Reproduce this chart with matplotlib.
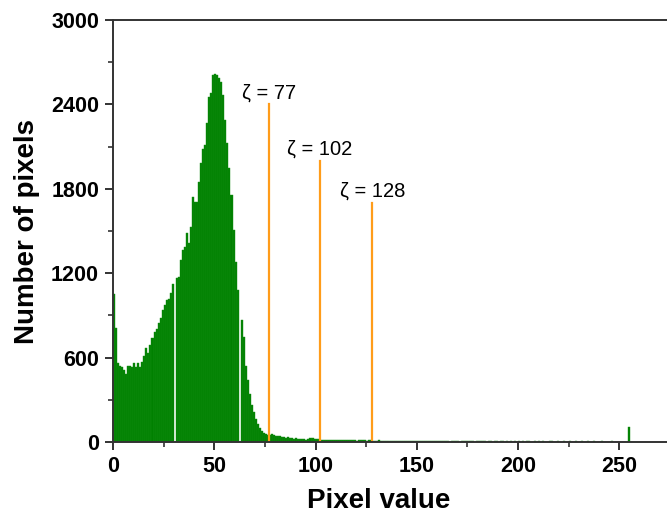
import numpy as np
import matplotlib
matplotlib.use('Agg')
import matplotlib.pyplot as plt
from matplotlib.ticker import MultipleLocator

plt.rcParams['font.family'] = ['Liberation Sans', 'DejaVu Sans']

# histogram counts, one per pixel value 0..255
counts_low = [
    1052, 808, 559, 540, 531, 512, 484, 543, 540, 531,
    564, 531, 559, 531, 571, 611, 665, 630, 689, 737,
    784, 800, 848, 879, 938, 974, 1010, 1016, 1056, 1123,
    0, 1163, 1175, 1293, 1365, 1389, 1488, 1412, 1530, 1744,
    1708, 1708, 1850, 1980, 2080, 2110, 2265, 2454, 2478, 2608,
    2615, 2608, 2585, 2560, 2466, 2289, 2123, 1945, 1755, 1507,
    1282, 1080, 0, 867, 749, 540, 440, 340, 260, 210,
    165, 130, 100, 80, 65, 58, 52,
]
counts_tail = [
    50, 60, 47, 44, 42, 45, 34, 36, 32, 33, 27, 26, 24, 25, 20, 19, 18, 20, 17, 22, 26, 27, 24,
    22, 18, 16, 15, 17, 14, 15, 13, 14, 16, 12, 13, 14, 12, 11, 13, 12, 14, 11, 12, 10, 13, 11, 12, 14, 10, 11, 12,
    9, 10, 8, 11, 9, 7, 10, 8, 9, 7, 8, 10, 6, 9, 7, 8, 6, 9, 7, 8, 5, 7, 8, 6, 7, 5, 8, 6, 7, 5, 6, 7,
    5, 6, 4, 7, 5, 6, 3, 5, 6, 4, 5, 3, 6, 4, 5, 7, 4, 5, 3, 6, 4, 5, 4, 6, 3, 4, 5, 3, 4, 6, 3, 4,
    5, 3, 4, 2, 5, 3, 4, 3, 5, 2, 4, 3, 5, 4, 2, 3, 4, 2, 5, 3, 4, 2, 3, 4, 5, 2, 3, 4, 2, 3, 5, 3,
    2, 4, 3, 2, 4, 3, 2, 5, 3, 2, 4, 2, 3, 4, 2, 3, 2, 4, 3, 2, 3, 2, 4, 2, 3, 2, 2, 3, 1, 2, 110, 0,
]
counts = np.array(counts_low + counts_tail)
pixel_values = np.arange(len(counts))

# thresholds and the height of their marker lines
zeta = [77, 102, 128]
zeta_top = [2400, 2000, 1700]

fig = plt.figure(figsize=(6.67, 5.21), dpi=100)
ax = fig.add_axes([0.1694, 0.1516, 0.8306, 0.81])

ax.bar(pixel_values, counts, width=1, align='edge', color='#008000',
       edgecolor='#178f17', linewidth=0.3)

for z, top in zip(zeta, zeta_top):
    ax.plot([z, z], [0, top], color='#ff9c1a', lw=1.6)
    ax.text(z, top + 80, 'ζ = %d' % z, ha='center', va='center', fontsize=14.5)

ax.set_xlim(0, 273.5)
ax.set_ylim(0, 3000)
ax.xaxis.set_major_locator(MultipleLocator(50))
ax.xaxis.set_minor_locator(MultipleLocator(25))
ax.yaxis.set_major_locator(MultipleLocator(600))
ax.yaxis.set_minor_locator(MultipleLocator(300))

for s in ['left', 'bottom', 'top']:
    ax.spines[s].set_color('#333333')
    ax.spines[s].set_linewidth(1.4)
ax.spines['right'].set_visible(False)

ax.tick_params(which='major', direction='out', length=6, width=1.4, color='#333333',
               labelsize=15.5, pad=4)
ax.tick_params(which='minor', direction='out', length=3.5, width=1.2, color='#333333')
for lab in ax.get_xticklabels() + ax.get_yticklabels():
    lab.set_fontweight('bold')

ax.set_xlabel('Pixel value', fontsize=20, fontweight='bold', labelpad=8, x=0.48)
ax.set_ylabel('Number of pixels', fontsize=20, fontweight='bold', labelpad=8)

fig.savefig('out.png', dpi=100)
